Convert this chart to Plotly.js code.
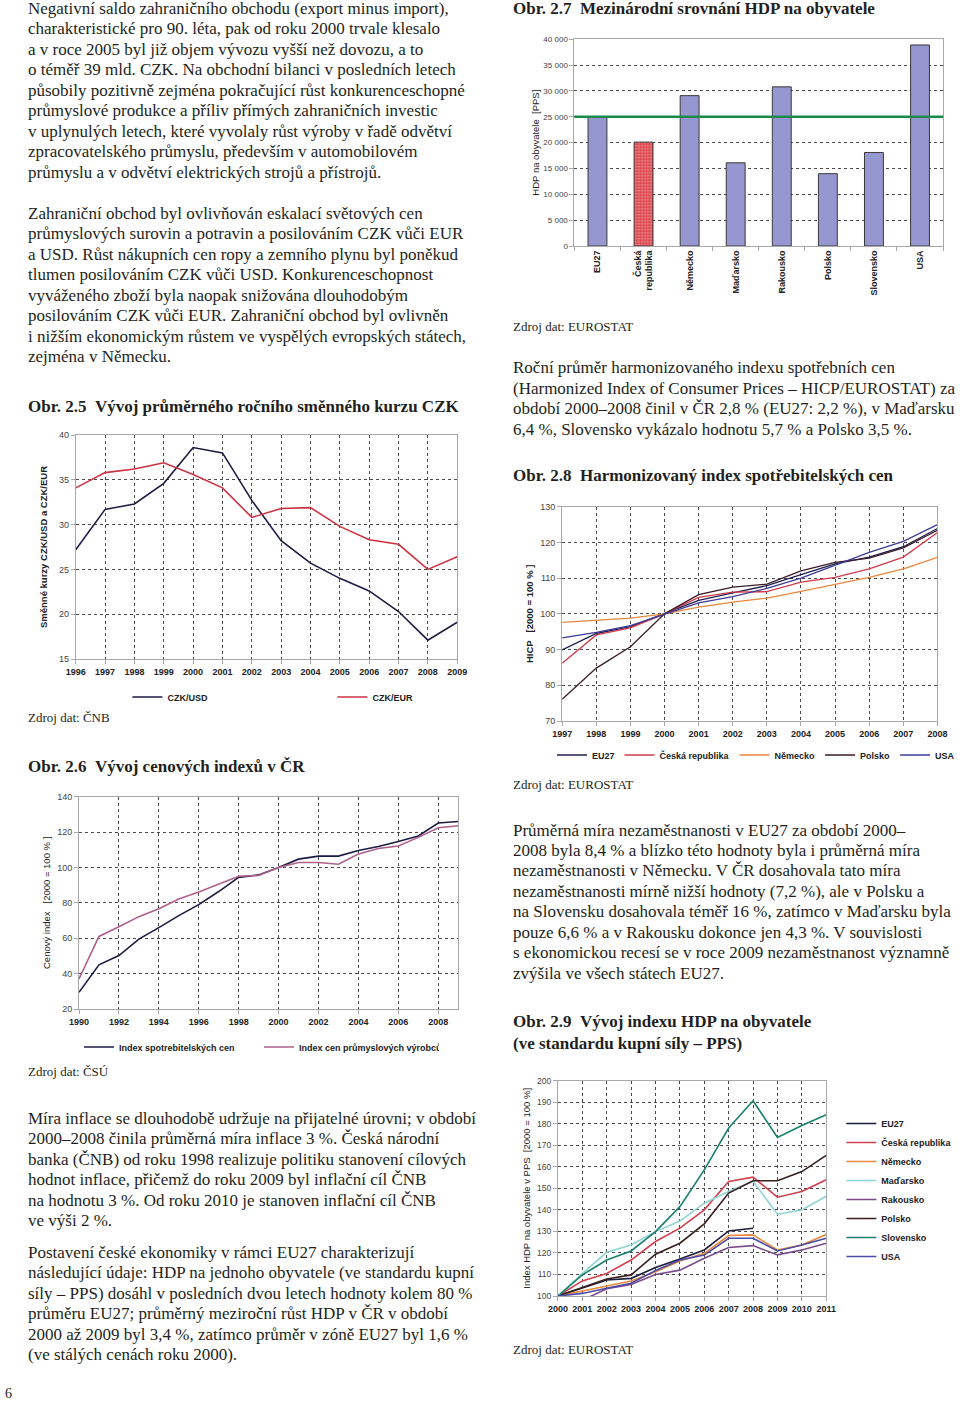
<!DOCTYPE html>
<html><head><meta charset="utf-8">
<script src="https://cdn.plot.ly/plotly-3.0.1.min.js"></script>
<style>html,body{margin:0;padding:0;background:#fff;}#chart{width:960px;height:1403px;}</style>
</head><body><div id="chart"></div>
<script>
// ---------- DATA ----------
// Obr. 2.5
const years25 = [1996,1997,1998,1999,2000,2001,2002,2003,2004,2005,2006,2007,2008,2009];
const czkUsd  = [27.2,31.7,32.3,34.6,38.6,38.0,32.7,28.2,25.7,24.0,22.6,20.3,17.1,19.1];
const czkEur  = [34.1,35.8,36.2,36.9,35.6,34.1,30.8,31.8,31.9,29.8,28.3,27.8,25.0,26.4];
// Obr. 2.6
const years26 = [1990,1991,1992,1993,1994,1995,1996,1997,1998,1999,2000,2001,2002,2003,2004,2005,2006,2007,2008,2009];
const cpi     = [29.4,45.0,50.2,59.5,66.0,72.8,79.0,86.4,94.4,95.8,100,104.7,106.4,106.4,109.6,111.8,114.7,117.8,125.1,126.0];
const ppi     = [37.0,61.0,66.5,72.2,76.7,82.2,86.2,90.5,95.0,95.5,100,102.8,102.8,101.8,107.6,110.7,112.1,117.0,122.5,123.6];
// Obr. 2.7
const countries = ['EU27','Česká<br>republika','Německo','Maďarsko','Rakousko','Polsko','Slovensko','USA'];
const hdpPps    = [25000,20100,29100,16100,30800,14000,18100,38900];
// Obr. 2.8
const years28  = [1997,1998,1999,2000,2001,2002,2003,2004,2005,2006,2007,2008];
const hicpEU27 = [89.9,94.5,96.4,100,103.8,105.9,107.9,111.0,114.0,115.9,118.8,123.9];
const hicpCZ   = [86.2,94.1,96.1,100,104.6,106.1,106.2,108.9,110.2,112.6,115.9,122.8];
const hicpDE   = [97.6,98.2,98.8,100,101.9,103.3,104.4,106.3,108.3,110.2,112.6,115.8];
const hicpPL   = [76.1,84.8,90.8,100,105.4,107.5,108.3,112.0,114.4,115.6,118.5,123.4];
const hicpUS   = [93.3,94.8,96.7,100,103.1,104.8,107.1,110.0,113.6,117.2,120.3,125.0];
// Obr. 2.9
const years29 = [2000,2001,2002,2003,2004,2005,2006,2007,2008,2009,2010,2011];
const gdpEU27 = [100,103.6,107.4,108.2,113.2,117.2,121.4,130.2,131.5];
const gdpCZ   = [100,107.0,110.5,116.7,125.3,131.5,140.0,153.2,155.2,145.9,148.5,154.0];
const gdpDE   = [100,102.3,104.8,107.0,111.3,116.3,119.8,128.1,128.4,121.4,123.7,128.6];
const gdpHU   = [100,110.5,120.3,123.7,129.9,134.8,143.1,148.5,153.3,138.0,140.0,146.3];
const gdpAT   = [100,98.0,103.4,105.4,110.0,112.0,117.5,122.5,123.4,119.1,121.4,124.5];
const gdpPL   = [100,103.9,107.9,109.8,119.4,124.5,133.5,147.8,153.5,153.5,157.8,165.3];
const gdpSK   = [100,109.8,116.7,120.9,129.9,141.5,158.6,178.0,190.7,173.6,179.2,184.2];
const gdpUS   = [100,101.2,103.6,105.9,111.8,116.7,119.0,126.8,126.8,120.9,123.7,126.8];

// ---------- TEXTS ----------
const p1 = ["Negativní saldo zahraničního obchodu (export minus import),",
"charakteristické pro 90. léta, pak od roku 2000 trvale klesalo",
"a v roce 2005 byl již objem vývozu vyšší než dovozu, a to",
"o téměř 39 mld. CZK. Na obchodní bilanci v posledních letech",
"působily pozitivně zejména pokračující růst konkurenceschopné",
"průmyslové produkce a příliv přímých zahraničních investic",
"v uplynulých letech, které vyvolaly růst výroby v řadě odvětví",
"zpracovatelského průmyslu, především v automobilovém",
"průmyslu a v odvětví elektrických strojů a přístrojů."];
const p2 = ["Zahraniční obchod byl ovlivňován eskalací světových cen",
"průmyslových surovin a potravin a posilováním CZK vůči EUR",
"a USD. Růst nákupních cen ropy a zemního plynu byl poněkud",
"tlumen posilováním CZK vůči USD. Konkurenceschopnost",
"vyváženého zboží byla naopak snižována dlouhodobým",
"posilováním CZK vůči EUR. Zahraniční obchod byl ovlivněn",
"i nižším ekonomickým růstem ve vyspělých evropských státech,",
"zejména v Německu."];
const p3 = ["Míra inflace se dlouhodobě udržuje na přijatelné úrovni; v období",
"2000–2008 činila průměrná míra inflace 3 %. Česká národní",
"banka (ČNB) od roku 1998 realizuje politiku stanovení cílových",
"hodnot inflace, přičemž do roku 2009 byl inflační cíl ČNB",
"na hodnotu 3 %. Od roku 2010 je stanoven inflační cíl ČNB",
"ve výši 2 %."];
const p4 = ["Postavení české ekonomiky v rámci EU27 charakterizují",
"následující údaje: HDP na jednoho obyvatele (ve standardu kupní",
"síly – PPS) dosáhl v posledních dvou letech hodnoty kolem 80 %",
"průměru EU27; průměrný meziroční růst HDP v ČR v období",
"2000 až 2009 byl 3,4 %, zatímco průměr v zóně EU27 byl 1,6 %",
"(ve stálých cenách roku 2000)."];
const p5 = ["Roční průměr harmonizovaného indexu spotřebních cen",
"(Harmonized Index of Consumer Prices – HICP/EUROSTAT) za",
"období 2000–2008 činil v ČR 2,8 % (EU27: 2,2 %), v Maďarsku",
"6,4 %, Slovensko vykázalo hodnotu 5,7 % a Polsko 3,5 %."];
const p6 = ["Průměrná míra nezaměstnanosti v EU27 za období 2000–",
"2008 byla 8,4 % a blízko této hodnoty byla i průměrná míra",
"nezaměstnanosti v Německu. V ČR dosahovala tato míra",
"nezaměstnanosti mírně nižší hodnoty (7,2 %), ale v Polsku a",
"na Slovensku dosahovala téměř 16 %, zatímco v Maďarsku byla",
"pouze 6,6 % a v Rakousku dokonce jen 4,3 %. V souvislosti",
"s ekonomickou recesí se v roce 2009 nezaměstnanost významně",
"zvýšila ve všech státech EU27."];
const NB = "\u00a0";

// ---------- HELPERS ----------
const W = 960, H = 1403;
const X = p => p / W, Y = p => 1 - p / H;
const SANS = 'Liberation Sans, Arial, sans-serif';
const SERIF = 'Liberation Serif, Times New Roman, serif';
const annotations = [];
function para(lines, xpx, centerFirst, font, spacing) {
  lines.forEach((t, i) => annotations.push({xref:'paper', yref:'paper',
    x:X(xpx), y:Y(centerFirst + i * (spacing || 20.5)),
    xanchor:'left', yanchor:'middle', align:'left', showarrow:false, borderpad:0,
    text:t, font:font}));
}
const body = {family:SERIF, size:17, color:'#231f20'};
const titleF = {family:SERIF, size:17, color:'#231f20', weight:'bold'};
const srcF = {family:SERIF, size:13, color:'#231f20'};
const LX = 27, RX = 518;

para(p1, LX, 8.3, body);
para(p2, LX, 213.3, body);
para(["Obr. 2.5"+NB+NB+"Vývoj průměrného ročního směnného kurzu CZK"], LX, 406, titleF);
para(["Zdroj dat: ČNB"], LX, 717, srcF);
para(["Obr. 2.6"+NB+NB+"Vývoj cenových indexů v ČR"], LX, 766, titleF);
para(["Zdroj dat: ČSÚ"], LX, 1071, srcF);
para(p3, LX, 1118, body);
para(p4, LX, 1252, body);
para(["6"], 4, 1393, {family:SERIF, size:14, color:'#231f20'});
para(["Obr. 2.7"+NB+NB+"Mezinárodní srovnání HDP na obyvatele"], RX, 8.5, titleF);
para(["Zdroj dat: EUROSTAT"], RX, 327, srcF);
para(p5, RX, 367.5, body);
para(["Obr. 2.8"+NB+NB+"Harmonizovaný index spotřebitelských cen"], RX, 476, titleF);
para(["Zdroj dat: EUROSTAT"], RX, 784, srcF);
para(p6, RX, 830, body, 20.45);
para(["Obr. 2.9"+NB+NB+"Vývoj indexu HDP na obyvatele", "(ve standardu kupní síly – PPS)"], RX, 1021, titleF, 22);
para(["Zdroj dat: EUROSTAT"], RX, 1349, srcF);

function ax(extra) {
  return Object.assign({
    showline:true, linecolor:'#a8a8a8', linewidth:1, mirror:true,
    ticks:'outside', ticklen:4, tickcolor:'#a8a8a8',
    showgrid:true, gridcolor:'#4a4a4a', griddash:'dot', gridwidth:1,
    zeroline:false, automargin:false, fixedrange:true,
    tickfont:{family:SANS, size:9, color:'#444'}
  }, extra);
}
const xTickF = {family:SANS, size:9, color:'#222', weight:'bold'};
const yTitle = (t, bold) => ({text:t, font:{family:SANS, size:9.5, color:'#222', weight: bold ? 'bold' : 'normal'}});
const legF = {family:SANS, size:9, color:'#222', weight:'bold'};

// ---------- TRACES ----------
const line = (x, y, name, color, xa, ya, leg, w) => ({type:'scatter', mode:'lines', x:x, y:y, name:name,
  xaxis:xa, yaxis:ya, legend:leg, line:{color:color, width:w||1.6}, hoverinfo:'skip'});

const traces = [
  line(years25, czkUsd, 'CZK/USD', '#1c1c44', 'x', 'y', 'legend'),
  line(years25, czkEur, 'CZK/EUR', '#cc3341', 'x', 'y', 'legend'),
  line(years26, cpi, 'Index spotrebitelských cen', '#1c1c44', 'x2', 'y2', 'legend2'),
  line(years26, ppi, 'Index cen průmyslových výrobců', '#b0608c', 'x2', 'y2', 'legend2'),
  {type:'bar', x:countries, y:hdpPps, xaxis:'x3', yaxis:'y3', showlegend:false, hoverinfo:'skip',
   marker:{color:countries.map((c,i)=> i===1 ? '#dc4048' : '#9696d0'),
           line:{color:'#3a3a3a', width:1},
           pattern:{shape:countries.map((c,i)=> i===1 ? '.' : ''), fillmode:'overlay', fgcolor:'#f29a9a', size:3, solidity:0.3}}},
  line(years28, hicpEU27, 'EU27', '#1e2050', 'x4', 'y4', 'legend3', 1.3),
  line(years28, hicpCZ, 'Česká republika', '#d23a4a', 'x4', 'y4', 'legend3', 1.3),
  line(years28, hicpDE, 'Německo', '#e8883e', 'x4', 'y4', 'legend3', 1.3),
  line(years28, hicpPL, 'Polsko', '#3c1a28', 'x4', 'y4', 'legend3', 1.3),
  line(years28, hicpUS, 'USA', '#3c3c98', 'x4', 'y4', 'legend3', 1.3),
  line(years29.slice(0, gdpEU27.length), gdpEU27, 'EU27', '#1c1c3c', 'x5', 'y5', 'legend4'),
  line(years29, gdpCZ, 'Česká republika', '#d2404c', 'x5', 'y5', 'legend4'),
  line(years29, gdpDE, 'Německo', '#e8883a', 'x5', 'y5', 'legend4'),
  line(years29, gdpHU, 'Maďarsko', '#8ed4d4', 'x5', 'y5', 'legend4'),
  line(years29, gdpAT, 'Rakousko', '#7a4a8a', 'x5', 'y5', 'legend4'),
  line(years29, gdpPL, 'Polsko', '#3a1f1f', 'x5', 'y5', 'legend4'),
  line(years29, gdpSK, 'Slovensko', '#1a8070', 'x5', 'y5', 'legend4'),
  line(years29, gdpUS, 'USA', '#4a4aa8', 'x5', 'y5', 'legend4')
];

const y5Title = yTitle('Index HDP na obyvatele v PPS'+NB+NB+'[2000 = 100 %]', false);
y5Title.standoff = 4;

const layout = {
  width: W, height: H, margin:{l:0, r:0, t:0, b:0},
  paper_bgcolor:'#fff', plot_bgcolor:'#fff',
  separators: ', ',
  font:{family:SANS, color:'#222'},
  // Obr. 2.5
  xaxis: ax({domain:[X(76.7), X(463)], anchor:'y', range:[1996, 2009], dtick:1, tick0:1996, tickfont:xTickF}),
  yaxis: ax({domain:[Y(659), Y(435)], anchor:'x', range:[15, 40], dtick:5, title:yTitle('Směnné kurzy CZK/USD a CZK/EUR', true)}),
  // Obr. 2.6
  xaxis2: ax({domain:[X(80), X(464)], anchor:'y2', range:[1990, 2009], dtick:2, tick0:1990, tickfont:xTickF}),
  yaxis2: ax({domain:[Y(1009), Y(796.7)], anchor:'x2', range:[20, 140], dtick:20, title:yTitle('Cenový index'+NB+NB+NB+'[2000 = 100 % ]', false)}),
  // Obr. 2.7
  xaxis3: ax({domain:[X(581.7), X(955)], anchor:'y3', type:'category', range:[-0.5, 7.5], showgrid:false, tickson:'boundaries',
              tickangle:-90, tickfont:{family:SANS, size:9, color:'#222', weight:'bold'}}),
  yaxis3: ax({domain:[Y(246), Y(39.3)], anchor:'x3', range:[0, 40000], dtick:5000, separatethousands:true, exponentformat:'none',
              tickfont:{family:SANS, size:8, color:'#444'}, title:yTitle('HDP na obyvatele'+NB+NB+'[PPS]', false)}),
  bargap: 0.59,
  // Obr. 2.8
  xaxis4: ax({domain:[X(569.3), X(949.3)], anchor:'y4', range:[1997, 2008], dtick:1, tick0:1997, tickfont:xTickF}),
  yaxis4: ax({domain:[Y(721), Y(506.7)], anchor:'x4', range:[70, 130], dtick:10, title:yTitle('HICP'+NB+NB+NB+'[2000 = 100 % ]', true)}),
  // Obr. 2.9
  xaxis5: ax({domain:[X(565), X(836.7)], anchor:'y5', range:[2000, 2011], dtick:1, tick0:2000, tickfont:xTickF}),
  yaxis5: ax({domain:[Y(1296), Y(1080.7)], anchor:'x5', range:[100, 200], dtick:10,
              tickfont:{family:SANS, size:8.5, color:'#444'}, title:y5Title}),
  legend:  {orientation:'h', x:X(129), y:Y(697), xanchor:'left', yanchor:'middle', font:legF, bgcolor:'rgba(0,0,0,0)', entrywidth:160, entrywidthmode:'pixels'},
  legend2: {orientation:'h', x:X(80), y:Y(1047), xanchor:'left', yanchor:'middle', font:legF, bgcolor:'rgba(0,0,0,0)', entrywidth:135, entrywidthmode:'pixels'},
  legend3: {orientation:'h', x:X(559), y:Y(755), xanchor:'left', yanchor:'middle', font:legF, bgcolor:'rgba(0,0,0,0)'},
  legend4: {orientation:'v', x:X(852), y:Y(1109), xanchor:'left', yanchor:'top', font:legF, bgcolor:'rgba(0,0,0,0)'},
  shapes: [{type:'line', xref:'x3 domain', yref:'y3', x0:0, x1:1, y0:hdpPps[0], y1:hdpPps[0], line:{color:'#1e8a4a', width:2.5}}],
  annotations: annotations
};

Plotly.newPlot('chart', traces, layout, {staticPlot:true, displayModeBar:false});
</script></body></html>
